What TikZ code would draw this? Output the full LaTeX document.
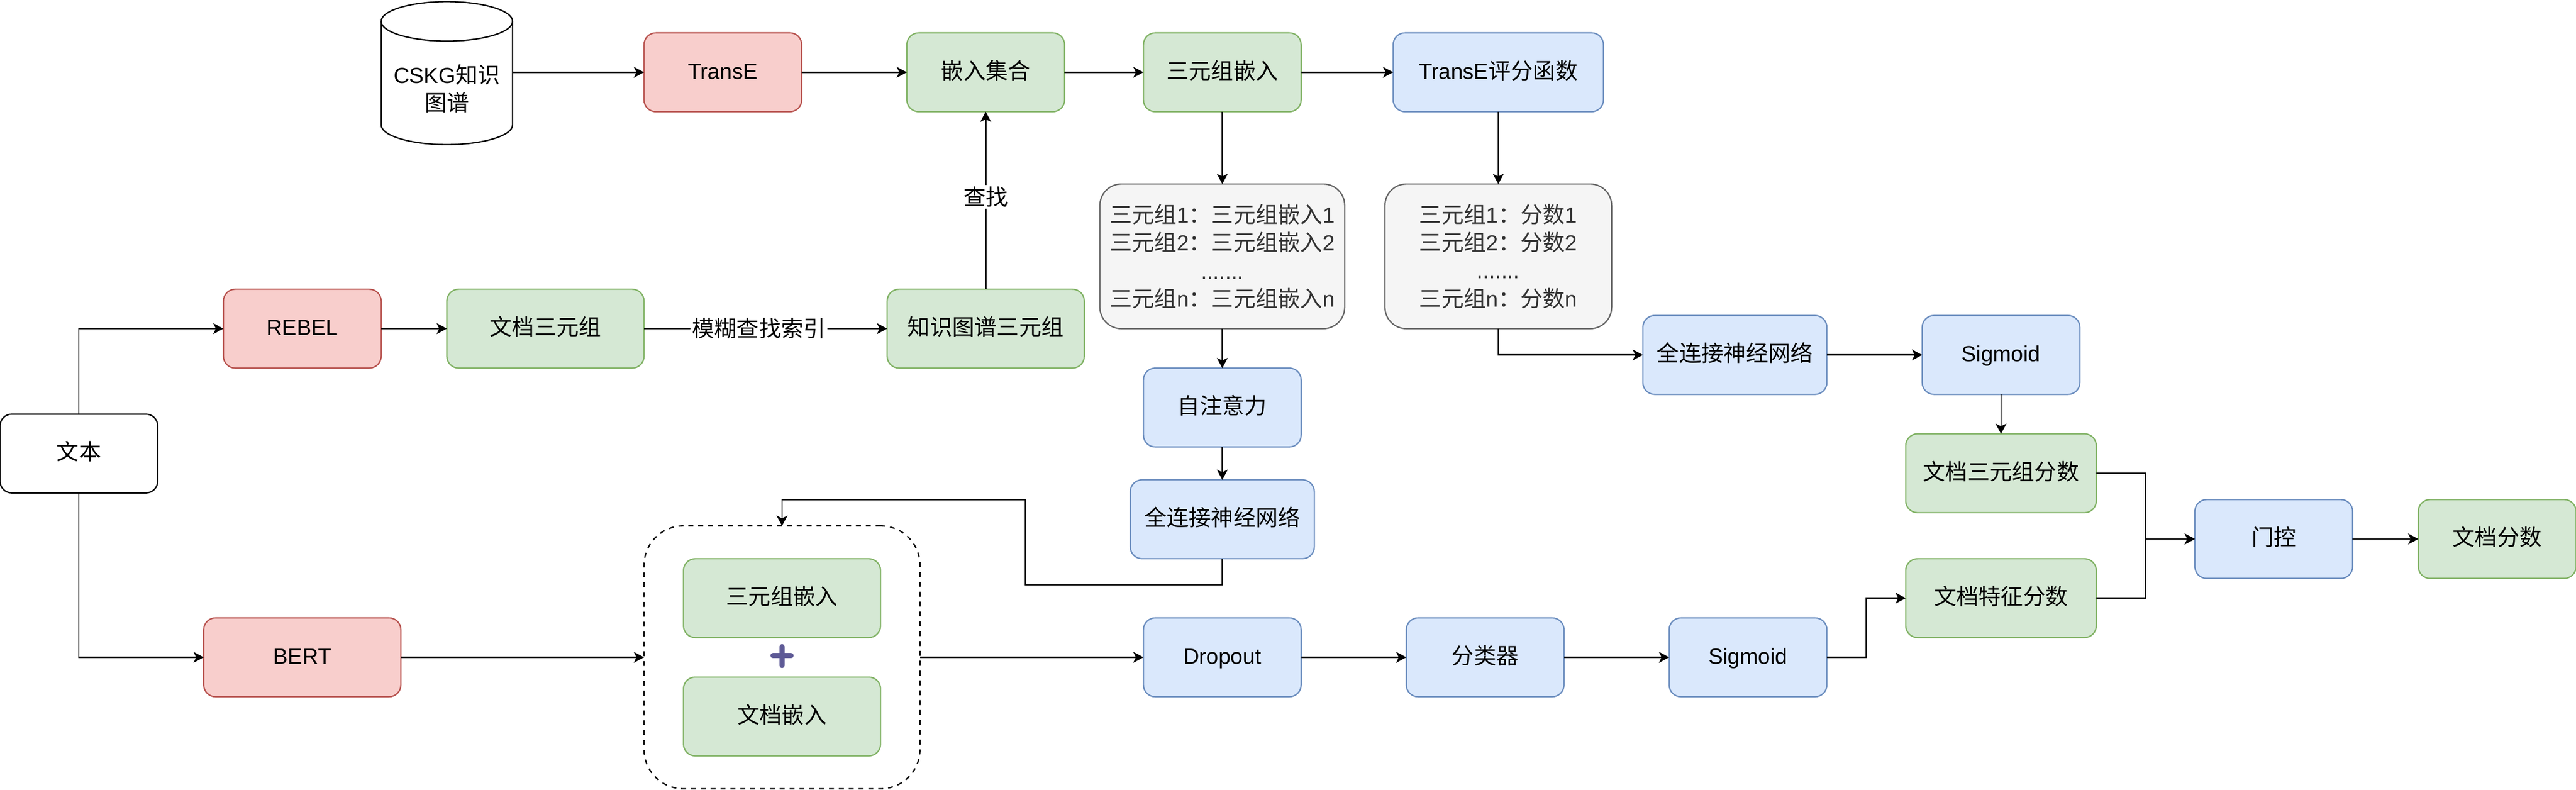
\documentclass[tikz,border=0pt]{standalone}
\usepackage{fontspec}
\setmainfont{Liberation Sans}
\newfontfamily\cjkfont[Scale=1.02]{Noto Sans CJK SC}
\newcommand{\zh}[1]{{\cjkfont #1}}
\usetikzlibrary{arrows.meta}
\definecolor{redF}{HTML}{F8CECC}\definecolor{redD}{HTML}{B85450}
\definecolor{grnF}{HTML}{D5E8D4}\definecolor{grnD}{HTML}{82B366}
\definecolor{bluF}{HTML}{DAE8FC}\definecolor{bluD}{HTML}{6C8EBF}
\definecolor{gryF}{HTML}{F5F5F5}\definecolor{gryD}{HTML}{666666}
\definecolor{plusC}{HTML}{5E5A96}
\tikzset{
  x=1pt,y=-1pt,
  base/.style={rectangle,rounded corners=7.2pt,draw,line width=0.8pt,inner sep=0pt,outer sep=0pt,
    minimum width=96pt,minimum height=48pt,align=center,font=\fontsize{13.3}{17}\selectfont},
  single/.style={base,text height=10.5pt,text depth=2.5pt},
  redbox/.style={single,fill=redF,draw=redD},
  grnbox/.style={single,fill=grnF,draw=grnD},
  blubox/.style={single,fill=bluF,draw=bluD},
  whtbox/.style={single,fill=white,draw=black},
  listbox/.style={base,fill=gryF,draw=gryD,text=black!80,rounded corners=13pt,minimum height=88pt},
  conn/.style={draw=black,line width=0.8pt,-{Stealth[length=6.2pt,width=6.6pt,inset=1.6pt]}},
  edgelab/.style={fill=white,inner sep=1pt,font=\fontsize{13.3}{17}\selectfont},
}
\begin{document}
\begin{tikzpicture}
\useasboundingbox (0,0) rectangle (1568,480.5);
% cylinder
\draw[line width=0.8pt,fill=white] (232,13) arc[start angle=180,end angle=0,x radius=40pt,y radius=12pt]
  -- (312,76) arc[start angle=0,end angle=-180,x radius=40pt,y radius=12pt] -- cycle;
\draw[line width=0.8pt] (232,13) arc[start angle=180,end angle=360,x radius=40pt,y radius=12pt];
\node[rectangle,inner sep=0pt,outer sep=0pt,minimum width=80pt,minimum height=38pt,align=center,font=\fontsize{13.3}{17}\selectfont] (cskg) at (272,54) {CSKG\zh{知识}\\\zh{图谱}};
% boxes
\node[redbox] (transe) at (440,44) {TransE};
\node[grnbox] (set) at (600,44) {\zh{嵌入集合}};
\node[grnbox] (triemb) at (744,44) {\zh{三元组嵌入}};
\node[blubox,minimum width=128pt] (score) at (912,44) {TransE\zh{评分函数}};
\node[listbox,minimum width=149pt] (list1) at (744,156) {\zh{三元组}1\zh{：三元组嵌入}1\\\zh{三元组}2\zh{：三元组嵌入}2\\.......\\\zh{三元组}n\zh{：三元组嵌入}n};
\node[listbox,minimum width=138pt] (list2) at (912,156) {\zh{三元组}1\zh{：分数}1\\\zh{三元组}2\zh{：分数}2\\.......\\\zh{三元组}n\zh{：分数}n};
\node[redbox] (rebel) at (184,200) {REBEL};
\node[grnbox,minimum width=120pt] (doctri) at (332,200) {\zh{文档三元组}};
\node[grnbox,minimum width=120pt] (kgtri) at (600,200) {\zh{知识图谱三元组}};
\node[whtbox] (text) at (48,276) {\zh{文本}};
\node[blubox] (attn) at (744,248) {\zh{自注意力}};
\node[blubox,minimum width=112pt] (fc1) at (744,316) {\zh{全连接神经网络}};
\node[blubox,minimum width=112pt] (fc2) at (1056,216) {\zh{全连接神经网络}};
\node[blubox] (sig1) at (1218,216) {Sigmoid};
\node[grnbox,minimum width=116pt] (triscore) at (1218,288) {\zh{文档三元组分数}};
\node[grnbox,minimum width=116pt] (featscore) at (1218,364) {\zh{文档特征分数}};
\node[blubox] (gate) at (1384,328) {\zh{门控}};
\node[grnbox] (docscore) at (1520,328) {\zh{文档分数}};
\node[redbox,minimum width=120pt] (bert) at (184,400) {BERT};
\node[base,dashed,dash pattern=on 3pt off 3pt,fill=white,draw=black,minimum width=168pt,minimum height=160pt,rounded corners=24pt] (group) at (476,400) {};
\node[grnbox,minimum width=120pt] (embA) at (476,364) {\zh{三元组嵌入}};
\node[grnbox,minimum width=120pt] (embB) at (476,436) {\zh{文档嵌入}};
\draw[plusC,line width=3.2pt,line cap=round] (476,393.5) -- (476,405) (470.5,399) -- (481.5,399);
\node[blubox] (drop) at (744,400) {Dropout};
\node[blubox] (clf) at (904,400) {\zh{分类器}};
\node[blubox] (sig2) at (1064,400) {Sigmoid};
% connectors
\draw[conn] (cskg.east |- transe.west) -- (transe.west);
\draw[conn] (transe) -- (set);
\draw[conn] (set) -- (triemb);
\draw[conn] (triemb) -- (score);
\draw[conn] (triemb) -- (list1);
\draw[conn] (score) -- (list2);
\draw[conn] (list1) -- (attn);
\draw[conn] (attn) -- (fc1);
\draw[conn] (rebel) -- (doctri);
\draw[conn] (doctri) -- node[edgelab,pos=0.473] {\zh{模糊查找索引}} (kgtri);
\draw[conn] (kgtri) -- node[edgelab,pos=0.52] {\zh{查找}} (set);
\draw[conn] (text.north) |- (rebel.west);
\draw[conn] (text.south) |- (bert.west);
\draw[conn] (bert) -- (group);
\draw[conn] (group) -- (drop);
\draw[conn] (drop) -- (clf);
\draw[conn] (clf) -- (sig2);
\coordinate (a1) at (744,356);
\coordinate (a2) at (624,356);
\coordinate (a3) at (624,304);
\coordinate (a4) at (476,304);
\draw[conn] (fc1.south) -- (a1) -- (a2) -- (a3) -- (a4) -- (group.north);
\draw[conn] (list2.south) |- (fc2.west);
\draw[conn] (fc2) -- (sig1);
\draw[conn] (sig1) -- (triscore);
\coordinate (m1) at (1136,400);
\coordinate (m2) at (1136,364);
\draw[conn] (sig2.east) -- (m1) -- (m2) -- (featscore.west);
\coordinate (j1) at (1306,288);
\coordinate (j2) at (1306,328);
\coordinate (j3) at (1306,364);
\draw[conn] (triscore.east) -- (j1) -- (j2) -- (gate.west);
\draw[conn] (featscore.east) -- (j3) -- (j2) -- (gate.west);
\draw[conn] (gate) -- (docscore);
\end{tikzpicture}
\end{document}
